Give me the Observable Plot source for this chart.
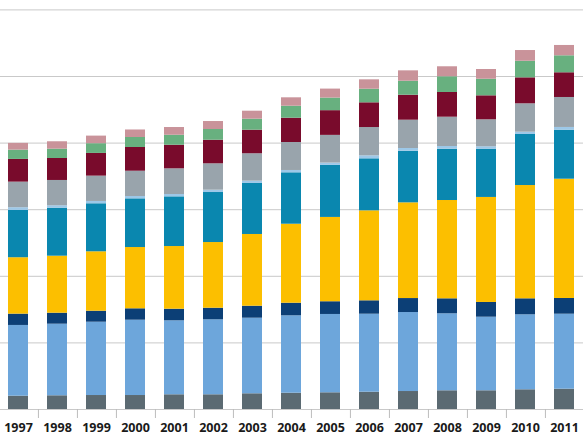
<!DOCTYPE html>
<html>
<head>
<meta charset="utf-8">
<script src="https://cdn.jsdelivr.net/npm/d3@7"></script>
<script src="https://cdn.jsdelivr.net/npm/@observablehq/plot@0.6"></script>
<style>
  html, body { margin: 0; padding: 0; background: #ffffff; }
  #chart svg { display: block; }
</style>
</head>
<body>
<div id="chart"></div>
<script>
const years = [1997, 1998, 1999, 2000, 2001, 2002, 2003, 2004, 2005, 2006, 2007, 2008, 2009, 2010, 2011];

// Segment values, bottom to top
const seriesA = [20.0, 20.6, 21.0, 21.0, 22.1, 22.1, 23.6, 24.5, 25.1, 26.0, 27.0, 28.1, 28.1, 29.6, 30.5];          // dark slate
const seriesB = [106.2, 107.5, 110.1, 113.1, 111.1, 112.6, 113.5, 116.2, 117.6, 117.1, 118.6, 115.6, 110.5, 112.6, 112.6]; // light blue
const seriesC = [17.0, 16.5, 16.5, 17.1, 17.4, 17.4, 18.0, 18.9, 19.1, 20.1, 21.0, 22.5, 22.1, 24.0, 23.6];           // navy
const seriesD = [84.7, 85.6, 89.2, 92.0, 94.1, 98.6, 107.7, 118.6, 126.6, 135.1, 143.7, 147.6, 157.7, 170.1, 179.1];  // gold
const seriesE = [71.0, 72.1, 72.1, 73.1, 74.6, 75.1, 76.6, 77.2, 78.1, 78.1, 77.5, 77.0, 72.5, 76.6, 73.6];           // teal
const seriesF = [4.1, 3.6, 3.5, 3.5, 3.5, 3.5, 3.5, 3.5, 3.5, 4.5, 4.1, 4.1, 3.6, 3.5, 4.1];                          // pale blue
const seriesG = [38.4, 38.0, 38.0, 38.0, 38.6, 39.6, 41.1, 42.0, 41.6, 42.5, 42.5, 44.0, 40.5, 42.6, 45.0];           // gray
const seriesH = [34.1, 33.0, 34.1, 35.6, 35.4, 35.4, 35.4, 36.5, 37.1, 37.1, 37.5, 37.1, 36.0, 39.0, 37.1];           // maroon
const seriesI = [14.0, 14.0, 14.6, 15.0, 15.0, 16.1, 16.5, 18.0, 18.9, 20.4, 21.0, 23.6, 24.9, 24.9, 25.5];           // green
const seriesJ = [10.1, 11.1, 11.4, 11.3, 11.6, 12.0, 12.0, 12.6, 13.5, 14.1, 15.6, 15.0, 14.6, 16.1, 15.5];           // pink

const seriesNames = ["A", "B", "C", "D", "E", "F", "G", "H", "I", "J"];
const seriesColors = ["#5b6a72", "#6da6db", "#0c3f76", "#fcbf00", "#0a87af", "#9dc8e8", "#99a4ac", "#790b2c", "#68b07f", "#c9939a"];
const gridTicks = [0, 100, 200, 300, 400, 500, 600];

const seriesValues = [seriesA, seriesB, seriesC, seriesD, seriesE, seriesF, seriesG, seriesH, seriesI, seriesJ];
const table = [];
seriesNames.forEach((name, s) => {
  years.forEach((yr, i) => table.push({year: yr, series: name, value: seriesValues[s][i]}));
});

const W = 583, H = 437;
const xRange = [2, 580];
const step = (xRange[1] - xRange[0]) / (years.length - 0.5);

const chart = Plot.plot({
  width: W,
  height: H,
  marginTop: 9.4,
  marginBottom: 28,
  marginLeft: 0,
  marginRight: 0,
  style: {fontFamily: "'Open Sans', 'Liberation Sans', sans-serif", background: "#ffffff", color: "#1a1a1a"},
  x: {domain: years, range: xRange, paddingInner: 0.5, paddingOuter: 0, axis: null},
  y: {domain: [0, 600], axis: null},
  color: {domain: seriesNames, range: seriesColors},
  marks: [
    Plot.ruleY(gridTicks, {stroke: "#c9c9c9", strokeWidth: 1}),
    Plot.barY(table, {x: "year", y: "value", fill: "series", order: seriesNames}),
    Plot.axisX({tickSize: 9, tickFormat: () => "", label: null, dx: step / 2, stroke: "#bdbdbd", strokeOpacity: 1}),
    Plot.axisX({tickSize: 0, tickPadding: 13.8, label: null, tickFormat: d => String(d), fontSize: 12.5, fontWeight: 700, fill: "#1a1a1a"})
  ]
});
document.getElementById("chart").appendChild(chart);
</script>
</body>
</html>
